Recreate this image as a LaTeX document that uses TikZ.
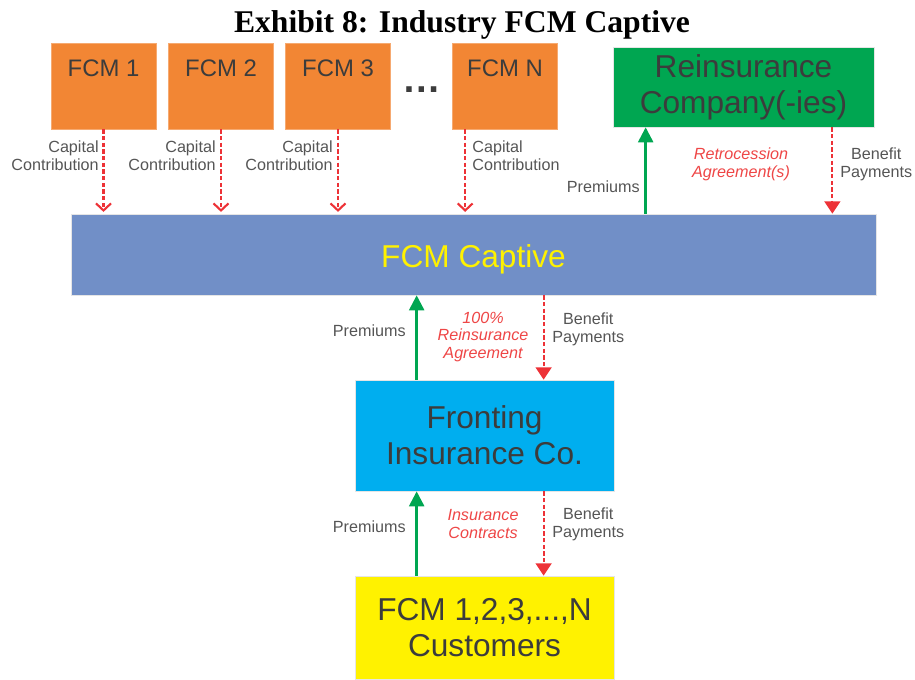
\documentclass[tikz,border=0pt]{standalone}
\usepackage{fontspec}
\setmainfont{Liberation Serif}
\setsansfont{Liberation Sans}
\usetikzlibrary{arrows.meta}
\definecolor{fcmorange}{RGB}{242,134,52}
\definecolor{reingreen}{RGB}{0,166,81}
\definecolor{captblue}{RGB}{113,143,199}
\definecolor{frontcyan}{RGB}{0,174,239}
\definecolor{custyellow}{RGB}{255,242,0}
\definecolor{arrred}{RGB}{237,50,55}
\definecolor{arrgreen}{RGB}{0,166,81}
\definecolor{boxtext}{RGB}{60,60,60}
\definecolor{lbltext}{RGB}{85,85,85}
\definecolor{lblred}{RGB}{238,70,70}

\begin{document}
\begin{tikzpicture}[x=0.02cm,y=-0.02cm,
  fcmbox/.style={fill=fcmorange,draw=fcmorange!70!white,line width=0.4pt,minimum width=2.1cm,minimum height=1.72cm,inner sep=0pt},
  bigbox/.style={draw=white!80!gray,line width=0.4pt,inner sep=0pt,align=center,text=boxtext,
    font=\sffamily\fontsize{18}{20.5}\selectfont},
  lbl/.style={font=\sffamily\fontsize{9.2}{10.2}\selectfont,text=lbltext,inner sep=0pt},
  redlbl/.style={font=\sffamily\itshape\fontsize{9.2}{10.2}\selectfont,text=lblred,inner sep=0pt,align=center},
  capital/.style={draw=arrred,line width=1.25pt,dash pattern=on 2.4pt off 1.4pt,
    -{Straight Barb[length=4pt,width=8.5pt,line width=1.2pt]},shorten >=1pt},
  benefit/.style={draw=arrred,line width=1.2pt,dash pattern=on 2.4pt off 1.4pt,
    -{Triangle[length=7pt,width=9pt]}},
  premium/.style={draw=arrgreen,line width=1.4pt,-{Triangle[length=8.5pt,width=8.5pt]}}]

\useasboundingbox (0,0) rectangle (915,679);

\node[font=\bfseries\fontsize{18}{20}\selectfont] (title) at (462,25) {Exhibit 8: Industry FCM Captive};

\node[fcmbox,label={[anchor=north,yshift=-0.22cm,font=\sffamily\fontsize{13.6}{15}\selectfont,text=boxtext]north:FCM 1}] (fcm1) at (103.5,86) {};
\node[fcmbox,label={[anchor=north,yshift=-0.22cm,font=\sffamily\fontsize{13.6}{15}\selectfont,text=boxtext]north:FCM 2}] (fcm2) at (221,86) {};
\node[fcmbox,label={[anchor=north,yshift=-0.22cm,font=\sffamily\fontsize{13.6}{15}\selectfont,text=boxtext]north:FCM 3}] (fcm3) at (338,86) {};
\node[fcmbox,label={[anchor=north,yshift=-0.22cm,font=\sffamily\fontsize{13.6}{15}\selectfont,text=boxtext]north:FCM N}] (fcmN) at (505,86) {};
\node[font=\sffamily\bfseries\fontsize{22}{22}\selectfont,text=boxtext] (dots) at (422,90) {…};

\node[bigbox,fill=reingreen,minimum width=5.22cm,minimum height=1.6cm] (reins) at (743.5,87) {Reinsurance\\Company(-ies)};
\node[bigbox,fill=captblue,minimum width=16.1cm,minimum height=1.62cm,text=custyellow] (captive) at (473.5,254.5) {\raisebox{-0.25cm}[0pt][0pt]{FCM Captive}};
\node[bigbox,fill=frontcyan,minimum width=5.18cm,minimum height=2.22cm] (fronting) at (484.5,435.5) {Fronting\\Insurance Co.};
\node[bigbox,fill=custyellow,minimum width=5.18cm,minimum height=2.06cm] (cust) at (484.5,627.5) {FCM 1,2,3,...,N\\Customers};

\coordinate (capN) at ([xshift=0.26cm]fcmN.south west);
\draw[capital] (fcm1.south) -- (fcm1.south |- captive.north);
\draw[capital] (fcm2.south) -- (fcm2.south |- captive.north);
\draw[capital] (fcm3.south) -- (fcm3.south |- captive.north);
\draw[capital] (capN) -- (capN |- captive.north);

\node[lbl,anchor=east,align=right] (cc1) at (99,156) {Capital\\Contribution};
\node[lbl,anchor=east,align=right] (cc2) at (216,156) {Capital\\Contribution};
\node[lbl,anchor=east,align=right] (cc3) at (333,156) {Capital\\Contribution};
\node[lbl,anchor=west,align=left] (ccN) at (472,156) {Capital\\Contribution};

\coordinate (reinP) at ([xshift=0.66cm]reins.south west);
\coordinate (reinB) at ([xshift=-0.84cm]reins.south east);
\draw[premium] (reinP |- captive.north) -- (reinP);
\draw[benefit] (reinB) -- (reinB |- captive.north);
\node[lbl,anchor=east] (prem1) at (640,187) {Premiums};
\node[redlbl] (retro) at (741,164) {Retrocession\\Agreement(s)};
\node[lbl,anchor=west,align=center] (ben1) at (840,164) {Benefit\\Payments};

\coordinate (frontP) at ([xshift=1.24cm]fronting.north west);
\coordinate (frontB) at ([xshift=3.78cm]fronting.north west);
\draw[premium] (frontP) -- (frontP |- captive.south);
\draw[benefit] (frontB |- captive.south) -- (frontB);
\node[lbl,anchor=east] (prem2) at (406,331) {Premiums};
\node[redlbl] (reinagr) at (483,337) {100\%\\Reinsurance\\Agreement};
\node[lbl,anchor=west,align=center] (ben2) at (552,329) {Benefit\\Payments};

\coordinate (custP) at ([xshift=1.24cm]cust.north west);
\coordinate (custB) at ([xshift=3.78cm]cust.north west);
\draw[premium] (custP) -- (custP |- fronting.south);
\draw[benefit] (custB |- fronting.south) -- (custB);
\node[lbl,anchor=east] (prem3) at (406,527) {Premiums};
\node[redlbl] (inscon) at (483,524) {Insurance\\Contracts};
\node[lbl,anchor=west,align=center] (ben3) at (552,524) {Benefit\\Payments};
\end{tikzpicture}
\end{document}
